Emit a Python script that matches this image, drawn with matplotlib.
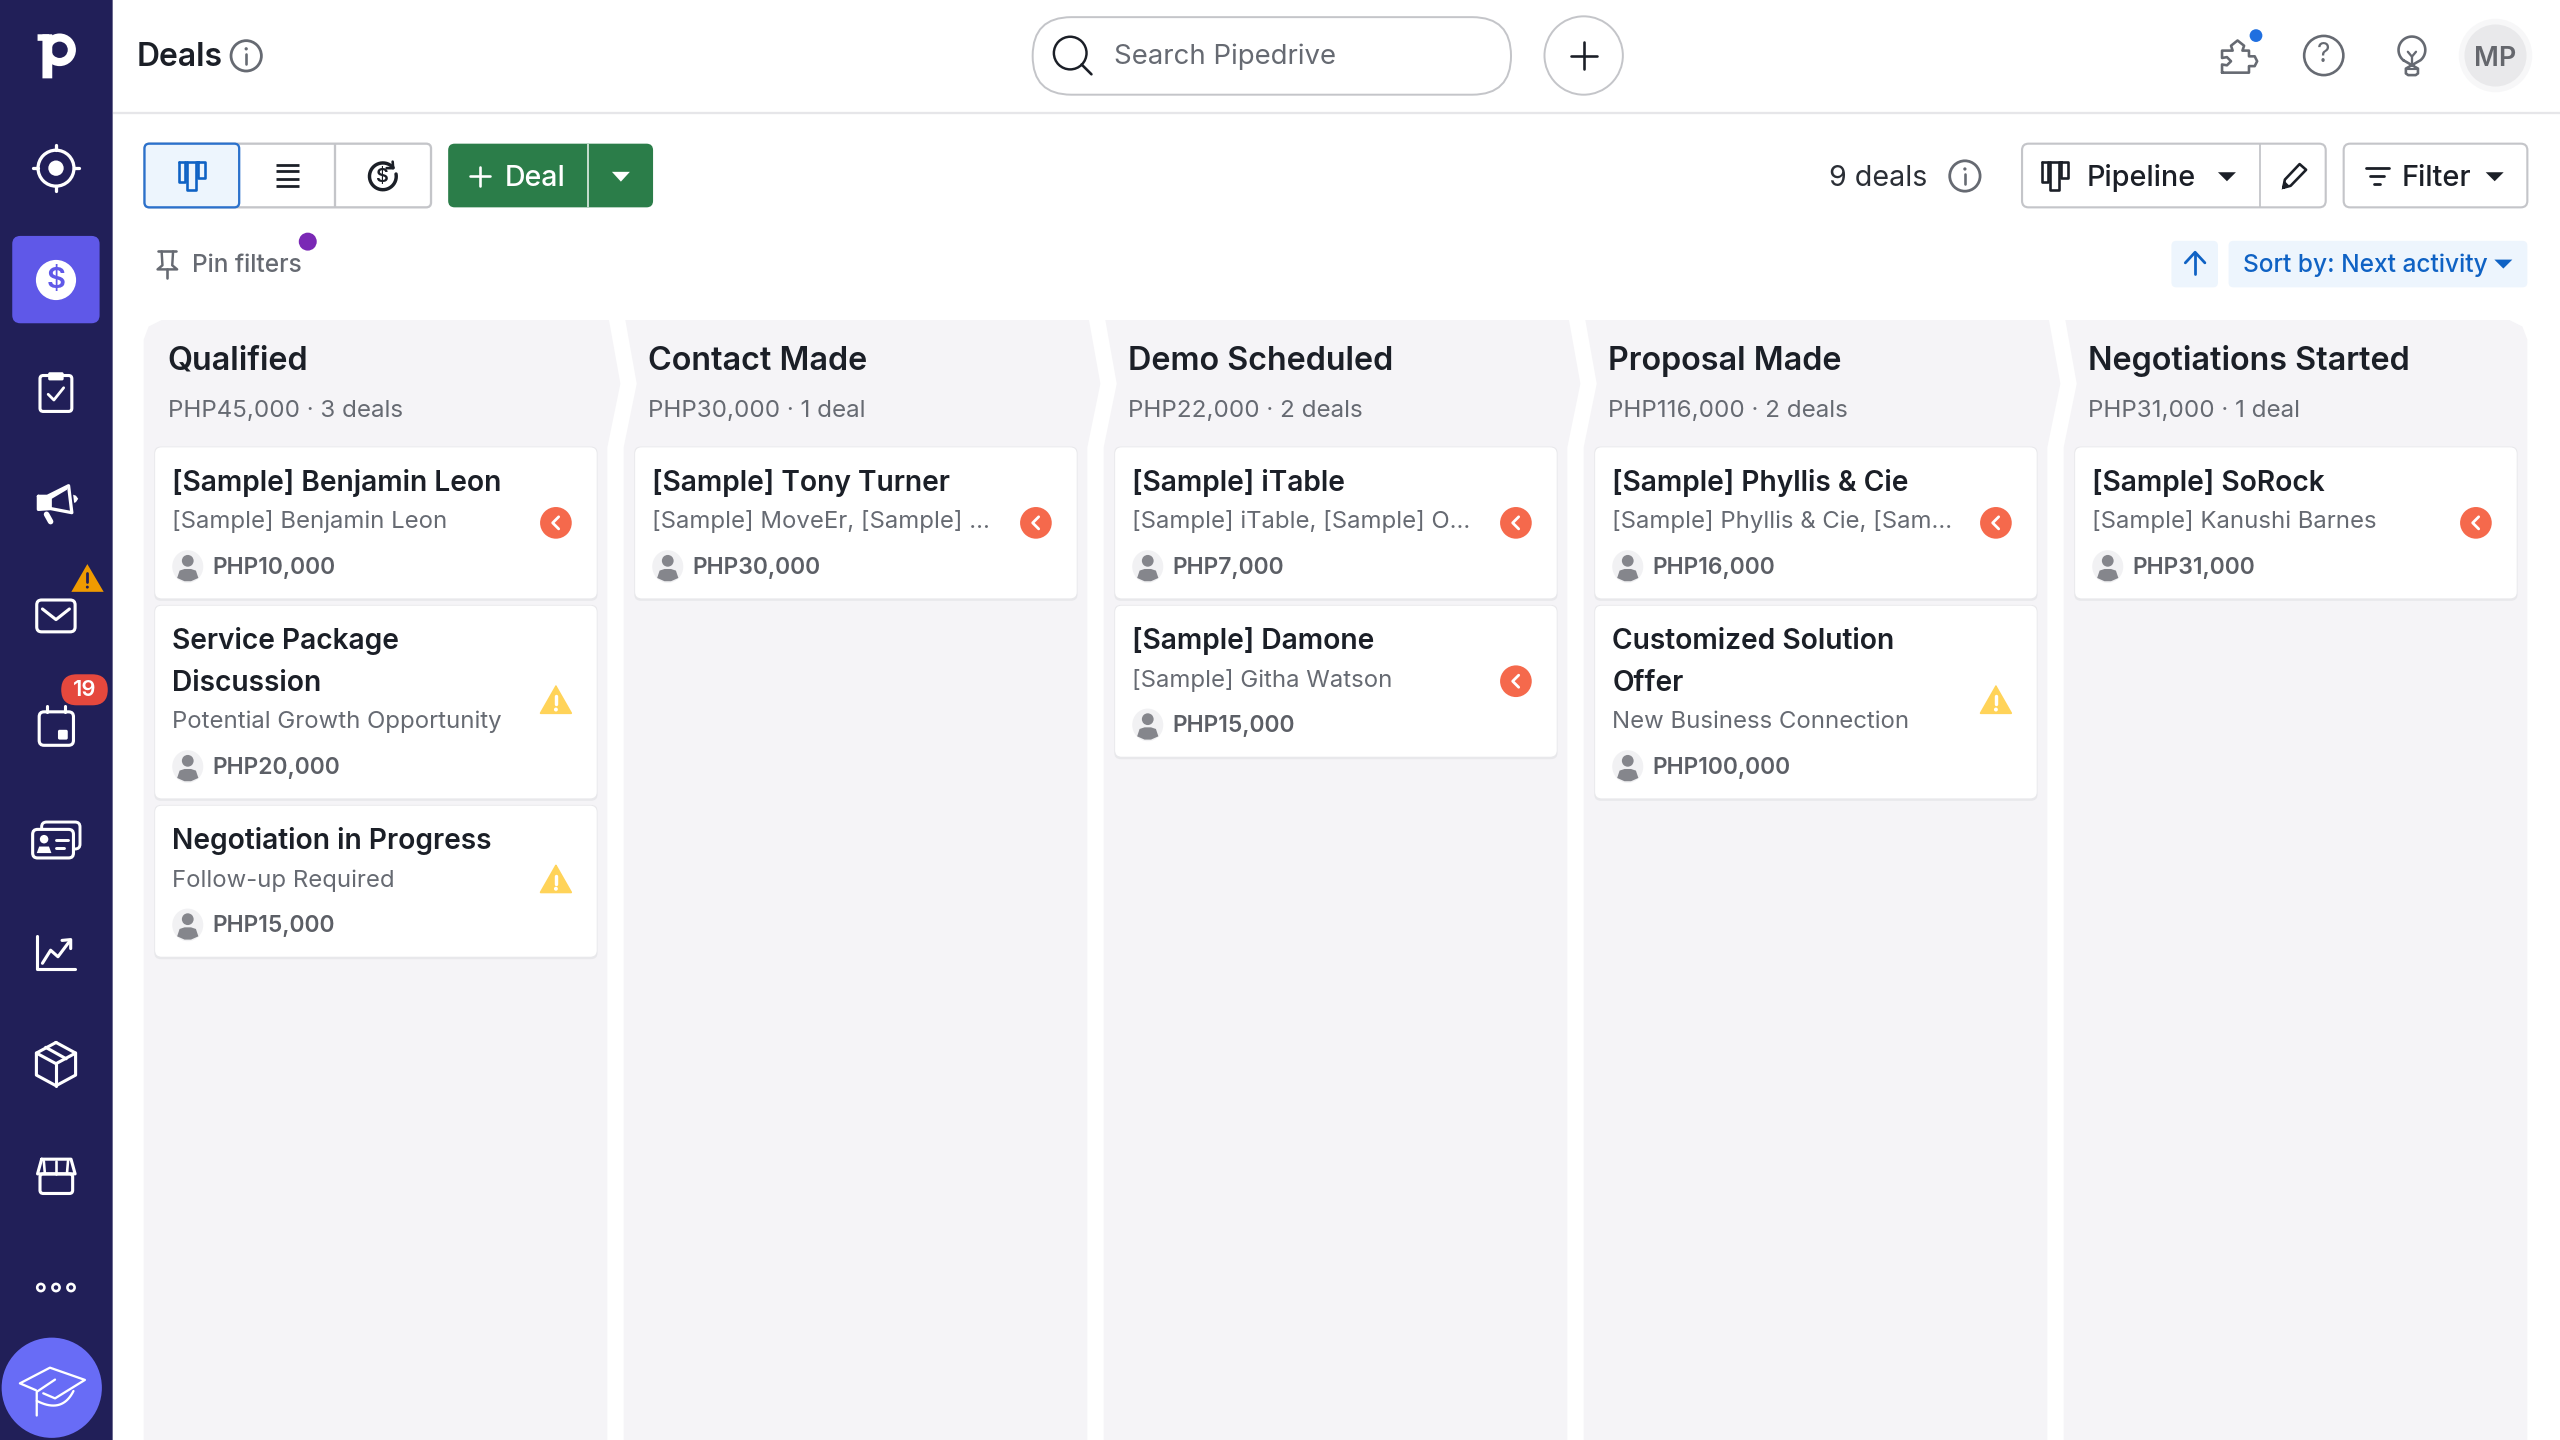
import numpy as np
import matplotlib
matplotlib.use("Agg")
import matplotlib.pyplot as plt
from matplotlib.patches import FancyBboxPatch, Circle, Ellipse, Polygon

stage_names = ["Qualified", "Contact Made", "Demo Scheduled", "Proposal Made", "Negotiations Started"]
stage_totals = [45000, 30000, 22000, 116000, 31000]
stage_counts = [3, 1, 2, 2, 1]

deal_stage = [0, 0, 0, 1, 2, 2, 3, 3, 4]
deal_titles = ["[Sample] Benjamin Leon", "Service Package\nDiscussion", "Negotiation in Progress",
               "[Sample] Tony Turner", "[Sample] iTable", "[Sample] Damone",
               "[Sample] Phyllis & Cie", "Customized Solution\nOffer", "[Sample] SoRock"]
deal_orgs = ["[Sample] Benjamin Leon", "Potential Growth Opportunity", "Follow-up Required",
             "[Sample] MoveEr, [Sample] ...", "[Sample] iTable, [Sample] O...", "[Sample] Githa Watson",
             "[Sample] Phyllis & Cie, [Sam...", "New Business Connection", "[Sample] Kanushi Barnes"]
deal_values = [10000, 20000, 15000, 30000, 7000, 15000, 16000, 100000, 31000]
deal_status = ["late", "warn", "warn", "late", "late", "late", "late", "warn", "late"]

NAVY = "#211f58"
INK = "#1b1f27"
GREY = "#666a72"
BORDER = "#c4c5c9"
BLUE = "#0f62c4"
PX = 1.1755  # one unit of the 1568 wide layout, in points

plt.rcParams["font.family"] = ["Inter", "DejaVu Sans"]

fig = plt.figure(figsize=(25.6, 14.4), dpi=100, facecolor="white")
ax = fig.add_axes([0, 0, 1, 1])
ax.set_xlim(0, 1568)
ax.set_ylim(882, 0)
ax.axis("off")

order = [10]


def z():
    order[0] += 1
    return order[0]


def box(x0, y0, x1, y1, r=0, fc="none", ec="none", lw=0):
    p = FancyBboxPatch((x0, y0), x1 - x0, y1 - y0, boxstyle=f"round,pad=0,rounding_size={r}",
                       fc=fc, ec=ec, lw=lw * PX, zorder=z())
    ax.add_patch(p)


def circ(x, y, r, fc="none", ec="none", lw=0):
    ax.add_patch(Circle((x, y), r, fc=fc, ec=ec, lw=lw * PX, zorder=z()))


def line(pts, color=INK, lw=1.8, closed=False, cap="round"):
    pts = list(pts)
    if closed:
        pts.append(pts[0])
    xs, ys = zip(*pts)
    ax.plot(xs, ys, color=color, lw=lw * PX, solid_capstyle=cap, solid_joinstyle="round", zorder=z())


def poly(pts, fc):
    ax.add_patch(Polygon(pts, closed=True, fc=fc, ec="none", zorder=z()))


def label(x, y, s, size=15, color=INK, weight="normal", ha="left", va="baseline"):
    ax.text(x, y, s, fontsize=size * PX, color=color, fontweight=weight, ha=ha, va=va, zorder=z())


def caret(x, y, color=INK, w=5.5, h=5):
    poly([(x - w, y - h / 2), (x + w, y - h / 2), (x, y + h / 2 + 0.5)], color)


def info(x, y, r=9.3):
    circ(x, y, r, ec=GREY, lw=1.7)
    line([(x, y - 1), (x, y + 5)], GREY, 1.6)
    circ(x, y - 4.3, 1.0, fc=GREY)


def pipeline_icon(x, y, color=INK, lw=1.6):
    line([(x - 8, y - 8.5), (x + 8, y - 8.5), (x + 8, y + 1.5), (x + 4, y + 1.5), (x + 4, y - 8.5)], color, lw)
    line([(x - 8, y - 8.5), (x - 8, y + 4), (x - 4, y + 4), (x - 4, y - 8.5)], color, lw)
    line([(x - 3, y - 8.5), (x - 3, y + 9), (x + 2.5, y + 9), (x + 2.5, y - 8.5)], color, lw)


# sidebar
box(0, 0, 69, 882, fc=NAVY)
circ(36.5, 30.5, 10, fc="white")
circ(36.5, 30.5, 5, fc=NAVY)
box(26, 21, 32, 48, fc="white")
box(23, 21, 30, 25, fc="white")

circ(34.3, 103, 11, ec="white", lw=2)
circ(34.3, 103, 4.7, fc="white")
for dx, dy in [(1, 0), (-1, 0), (0, 1), (0, -1)]:
    line([(34.3 + 11 * dx, 103 + 11 * dy), (34.3 + 14 * dx, 103 + 14 * dy)], "white", 2)

box(7.5, 144.5, 61, 198, r=5, fc="#5f58e8")
circ(34.3, 171.5, 12.3, fc="white")
label(34.3, 171.8, "$", 18, "#5f58e8", "semibold", "center", "center")

box(24.5, 230, 44, 252, r=2, ec="white", lw=1.9)
box(29.5, 228, 39, 233, r=1, fc="white")
line([(29.5, 241.5), (33, 245), (39, 237.5)], "white", 1.7)

# megaphone
line([(23.5, 304), (29, 304), (42, 297.5), (44, 314), (31, 311.5), (23.5, 312)], "white", 2, closed=True)
poly([(23.5, 304), (31.5, 304), (31.5, 311.5), (23.5, 312)], "white")
poly([(30, 303.5), (42, 297.5), (41, 300), (31.7, 305.5), (31.7, 311), (30, 311)], "white")
line([(28.5, 315), (31, 319.5)], "white", 3.4)
poly([(44.8, 303), (46.5, 303.6), (47.9, 305.5), (46.5, 307.6), (45.4, 308)], "white")

box(22.5, 367.5, 46, 387, r=3, ec="white", lw=1.9)
line([(26, 373), (34.3, 379.5), (42.5, 373)], "white", 1.9)
poly([(53.5, 345.5), (63.5, 362.5), (43.7, 362.5)], "#ef9a00")
line([(53.5, 351), (53.5, 356.5)], NAVY, 1.7)
circ(53.5, 359.6, 0.9, fc=NAVY)

box(24, 436, 45, 456.5, r=3, ec="white", lw=1.9)
line([(29, 432.5), (29, 436)], "white", 1.9)
line([(40, 432.5), (40, 436)], "white", 1.9)
box(35.5, 447, 41.5, 453, r=1, fc="white")
box(37.5, 413, 66, 432, r=9.5, fc="#e5483d")
label(51.7, 422.8, "19", 13.5, "white", "semibold", "center", "center")

box(25.5, 503.5, 49, 520, r=3, ec="white", lw=1.8)
box(20, 508, 45, 525.5, r=3, fc=NAVY, ec="white", lw=1.9)
circ(27, 514, 2.6, fc="white")
poly([(22.5, 522.5), (24, 518.5), (30, 518.5), (31.5, 522.5)], "white")
line([(34, 514.5), (41.5, 514.5)], "white", 1.8)
line([(34, 519.5), (39, 519.5)], "white", 1.8)

line([(22.8, 573), (22.8, 593.5), (46, 593.5)], "white", 1.9)
line([(26, 590), (31, 582), (35.5, 586), (43, 576)], "white", 1.9)
line([(38, 576), (43.3, 575.5), (43.3, 581)], "white", 1.9)

hx = [(34.3, 638.5), (46.3, 645), (46.3, 658.5), (34.3, 665), (22.3, 658.5), (22.3, 645)]
line(hx, "white", 1.9, closed=True)
line([(22.3, 645), (34.3, 651.5), (46.3, 645)], "white", 1.9)
line([(34.3, 651.5), (34.3, 665)], "white", 1.9)
line([(28, 641.5), (40.5, 648.5)], "white", 1.9)

line([(25.5, 710), (43.5, 710), (46, 719), (23, 719)], "white", 1.9, closed=True)
box(24.5, 719, 44.5, 731, r=2, ec="white", lw=1.9)
for sx in [27.5, 34.3, 41]:
    line([(sx + (sx - 34.3) * 0.1, 711), (sx, 719)], "white", 1.6)

for dx in [25, 34.3, 43.5]:
    circ(dx, 788.6, 2.2, fc=NAVY, ec="white", lw=1.6)

circ(31.7, 850, 30.7, fc="#686cf6")
line([(26.5, 853.4), (33.7, 856.5), (52, 845.2), (30.6, 837.7), (12.2, 847.3), (22, 851.5)], "white", 1.4)
line([(33.7, 845), (22.5, 852.5), (22.5, 867)], "white", 1.4)
t = np.linspace(0, 1, 20)
line([((1 - a) ** 2 * 22.5 + 2 * a * (1 - a) * 38 + a ** 2 * 45,
       (1 - a) ** 2 * 858 + 2 * a * (1 - a) * 866 + a ** 2 * 852) for a in t], "white", 1.4)

# top bar
line([(69, 69.3), (1568, 69.3)], "#e6e6e9", 1.4, cap="butt")
label(83.5, 40.5, "Deals", 19.5, INK, "semibold")
info(150.8, 34.2)

box(632.5, 10.5, 925.5, 58, r=23.7, fc="white", ec=BORDER, lw=1.2)
circ(655.5, 32.5, 10, ec=INK, lw=1.5)
line([(662.5, 39.5), (668.5, 45.5)], INK, 1.6)
label(682.5, 39, "Search Pipedrive", 16.9, GREY)
circ(970, 34, 24, fc="white", ec=BORDER, lw=1.2)
line([(962, 34), (978, 34)], INK, 1.6)
line([(970, 26), (970, 42)], INK, 1.6)

line([(1361, 44.5), (1361, 39.5), (1364, 40), (1366.5, 37.5), (1364, 35), (1361, 35.5), (1361, 31),
      (1367.5, 31), (1366.5, 28), (1370.5, 24.8), (1374.5, 28), (1373.5, 31), (1377.5, 31), (1377.5, 34.5),
      (1381, 34.5), (1382.5, 37.5), (1381, 40.5), (1377.5, 40.5), (1377.5, 44.5)], GREY, 1.6, closed=True)
circ(1381.8, 21.8, 3.9, fc="#1f6fe0")
circ(1423.3, 34, 12, ec=GREY, lw=1.6)
label(1423.3, 33.6, "?", 16, GREY, "normal", "center", "center")
a = np.linspace(np.radians(-50), np.radians(230), 40)
bulb = [(1477.3 + 8.2 * np.cos(v), 30.6 - 8.2 * np.sin(v)) for v in a]
line(bulb[::-1] + [(1473.6, 42), (1473.6, 45), (1475, 46), (1479.6, 46), (1481, 45), (1481, 42)], GREY, 1.6, closed=True)
line([(1473.6, 42.2), (1481, 42.2)], GREY, 1.3)
line([(1474.8, 31.7), (1477.3, 34.7), (1479.8, 31.7)], GREY, 1.4)
line([(1477.3, 34.7), (1477.3, 39.8)], GREY, 1.4)
circ(1528.5, 34, 22.5, fc="#f7f7f8")
circ(1528.5, 34, 19, fc="#e9e9eb")
label(1528.5, 34, "MP", 16.5, "#65676d", "semibold", "center", "center_baseline")

# toolbar left
box(88.5, 88, 264, 127, r=3, fc="white", ec=BORDER, lw=1.4)
line([(205, 88), (205, 127)], BORDER, 1.4, cap="butt")
box(88.5, 88, 146.5, 127, r=3, fc="#edf5fd", ec="#2b71cc", lw=1.4)
pipeline_icon(117.5, 107.5, BLUE)
for ly in [101, 105, 109.5, 114]:
    line([(169, ly), (183, ly)], INK, 1.7, cap="butt")
a = np.linspace(np.radians(40), np.radians(370), 40)
line([(234.5 + 8.2 * np.cos(v), 108 - 8.2 * np.sin(v)) for v in a], INK, 2.1)
label(234.5, 108.3, "$", 12, INK, "semibold", "center", "center")
line([(240.5, 99), (240.8, 103), (236.8, 103)], INK, 1.6)

box(274.5, 88, 400, 127, r=4, fc="#2b7d49")
line([(360, 88), (360, 127)], "#d5e5da", 1.1, cap="butt")
line([(288, 108), (300, 108)], "white", 1.6)
line([(294, 102), (294, 114)], "white", 1.6)
label(309, 114, "Deal", 17.5, "white", "medium")
caret(380.3, 108, "white", 5.5, 5.5)

line([(97, 154), (108, 154)], GREY, 1.6)
line([(99, 154), (99.5, 162.5), (96.5, 165), (108.5, 165), (105.5, 162.5), (106, 154)], GREY, 1.5)
line([(102.5, 165), (102.5, 170)], GREY, 1.6)
label(117.5, 166.7, "Pin filters", 15, GREY, "medium")
circ(188.5, 148, 5.5, fc="#7a28b5")

# toolbar right
label(1120, 114, "9 deals", 17.5, "#2b2f36")
info(1203.5, 107.8)
box(1238.5, 88, 1424.5, 127, r=4, fc="white", ec=BORDER, lw=1.3)
line([(1384.5, 88), (1384.5, 127)], BORDER, 1.1, cap="butt")
pipeline_icon(1258.5, 107.5, INK, 1.6)
label(1278, 114, "Pipeline", 17.6, INK, "medium")
caret(1364, 108)
poly([(1397.5, 116.2), (1399, 110.5), (1402, 113.5)], INK)
line([(1398.5, 115), (1399.5, 110), (1408.5, 100.5), (1412.5, 104), (1403, 113.8)], INK, 1.6, closed=True)
box(1435.5, 88, 1548, 127, r=4, fc="white", ec=BORDER, lw=1.3)
line([(1449, 103), (1463, 103)], INK, 1.7)
line([(1451.5, 108), (1460.5, 108)], INK, 1.7)
line([(1454, 112.5), (1458, 112.5)], INK, 1.7)
label(1471, 114, "Filter", 17.7, INK, "medium")
caret(1528, 108)

box(1330, 147.5, 1358.5, 176, r=3, fc="#edf5fd")
line([(1344.5, 155), (1344.5, 168)], BLUE, 1.7)
line([(1338.5, 161), (1344.5, 154.5), (1350.5, 161)], BLUE, 1.7)
box(1365, 147.5, 1548, 176, r=3, fc="#edf5fd")
label(1374, 166.5, "Sort by: Next activity", 15, BLUE, "medium")
caret(1533.3, 161.5, BLUE)

# pipeline columns
col_left = [88 + 294 * i for i in range(len(stage_names))]
col_width = 284
col_bottom = 882
for i, name in enumerate(stage_names):
    L = col_left[i]
    R = L + col_width
    pts = []
    if i == 0:
        pts += [(L, 208), (L + 3, 200), (L + 11, 196)]
    else:
        pts += [(L + 1, 196)]
    if i == len(stage_names) - 1:
        pts += [(R - 11, 196), (R - 3, 200), (R, 208)]
    else:
        pts += [(R + 1, 196), (R + 8, 235), (R, 274)]
    pts += [(R, col_bottom), (L, col_bottom)]
    if i > 0:
        pts += [(L, 274), (L + 8, 235)]
    poly(pts, "#f5f4f7")
    label(L + 14.8, 226.5, name, 19.8, INK, "semibold")
    c = stage_counts[i]
    label(L + 15, 255.5, f"PHP{stage_totals[i]:,} · {c} deal" + ("s" if c != 1 else ""), 14.8, GREY)

# deal cards
y_next = [274.0] * len(stage_names)
for stage, title, org, value, status in zip(deal_stage, deal_titles, deal_orgs, deal_values, deal_status):
    L = col_left[stage]
    top = y_next[stage]
    extra = 25.5 * title.count("\n")
    bottom = top + 92.5 + extra
    box(L + 6.5, top - 0.5, L + 278, bottom + 1.5, r=4, fc="#e8e8eb")
    box(L + 7, top, L + 277.5, bottom, r=4, fc="white")
    tx = L + 17.5
    for j, part in enumerate(title.split("\n")):
        label(tx, top + 26.5 + 25.5 * j, part, 17.25, INK, "semibold")
    label(tx, top + 49.5 + extra, org, 14.65, GREY)
    ax_y = top + 73 + extra
    ax.add_patch(Ellipse((L + 27, ax_y), 19, 20, fc="#f1f1f3", ec="none", zorder=z()))
    circ(L + 27, ax_y - 3.5, 3.6, fc="#85868c")
    poly([(L + 20.5, ax_y + 7), (L + 22, ax_y + 2.5), (L + 25, ax_y + 1.5), (L + 29, ax_y + 1.5),
          (L + 32, ax_y + 2.5), (L + 33.5, ax_y + 7), (L + 29, ax_y + 9), (L + 25, ax_y + 9)], "#85868c")
    label(L + 42, top + 77.5 + extra, f"PHP{value:,}", 14, "#5c5f66", "semibold")
    cx = L + 252.5
    cy = (top + bottom) / 2
    if status == "late":
        circ(cx, cy, 9.7, fc="#f5694c")
        line([(cx + 1.7, cy - 3.7), (cx - 2, cy), (cx + 1.7, cy + 3.7)], "white", 1.7)
    else:
        tri = [(cx, cy - 9.5), (cx + 9.3, cy + 6.8), (cx - 9.3, cy + 6.8)]
        poly(tri, "#ffd359")
        line(tri, "#ffd359", 1.2, closed=True)
        line([(cx, cy - 3.5), (cx, cy + 1.5)], "white", 2.1)
        circ(cx, cy + 4.6, 1.2, fc="white")
    y_next[stage] = bottom + 4.5

fig.savefig("out.png", dpi=100)
